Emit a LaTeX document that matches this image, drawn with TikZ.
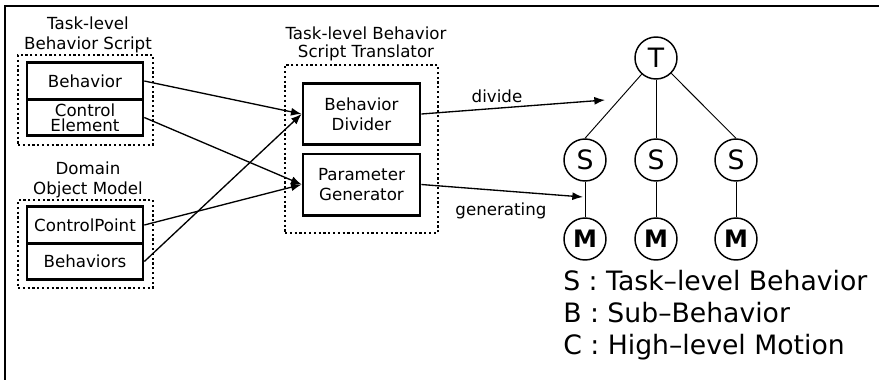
\documentclass[tikz,border=0pt]{standalone}
\usepackage{fontspec}
\setmainfont{DejaVu Sans}
\usetikzlibrary{arrows.meta}

\begin{document}
\begin{tikzpicture}[x=0.75pt, y=-0.75pt,
  box/.style={draw, line width=2pt, minimum width=87pt, minimum height=27.4pt,
    inner sep=1pt, align=center, font=\fontsize{12.5}{11}\selectfont},
  bigbox/.style={draw, line width=2pt, minimum width=87.75pt, minimum height=46pt,
    inner sep=1pt, align=center, font=\fontsize{12.5}{15}\selectfont},
  group/.style={draw, dotted, line width=1.6pt, inner sep=0pt},
  title/.style={align=center, inner sep=0pt, font=\fontsize{12.5}{15}\selectfont},
  flow/.style={line width=1pt, -{Latex[length=8pt,width=6pt]}},
  leaf/.style={draw, circle, line width=1.1pt, minimum size=31.5pt, inner sep=0pt,
    font=\fontsize{20}{20}\selectfont},
  edge/.style={line width=0.7pt}]
\useasboundingbox (0,0) rectangle (879,380);

% frame
\draw [line width=1.5pt] (879,6) -- (5,6) -- (5,380);

% behavior script
\node [title] (scripttitle) at (88,35) {Task-level\\Behavior Script};
\node [group, minimum width=101.25pt, minimum height=67.5pt] (script) at (85.5,100) {};
\node [box] (behavior) at (85,81) {Behavior};
\node [box] (control) at (85,117.5) {Control\\Element};

% domain object model
\node [title] (domaintitle) at (88,180) {Domain\\Object Model};
\node [group, minimum width=101.25pt, minimum height=66pt] (domain) at (85.5,244) {};
\node [box] (point) at (85,225) {ControlPoint};
\node [box] (behaviors) at (85,261.5) {Behaviors};

% translator
\node [title, font=\fontsize{12.5}{13.5}\selectfont] (transtitle) at (366,44) {Task-level Behavior\\Script Translator};
\node [group, minimum width=114.75pt, minimum height=126pt] (trans) at (361.5,149) {};
\node [bigbox] (divider) at (361.5,114) {Behavior\\Divider};
\node [bigbox] (generator) at (361.5,184.5) {Parameter\\Generator};

\draw [flow] (behavior.east) -- (divider.west);
\draw [flow] (behaviors.east) -- (divider.west);
\draw [flow] (control.east) -- (generator.west);
\draw [flow] (point.east) -- (generator.west);

% tree
\node [leaf] (T) at (656,58) {T};
\foreach \i/\x in {1/585, 2/656, 3/736} {
  \node [leaf] (S\i) at (\x,160) {S};
  \node [leaf, font=\fontsize{18}{18}\selectfont\bfseries] (M\i) at (\x,239) {M};
  \draw [edge] (T) -- (S\i.north);
  \draw [edge] (S\i) -- (M\i);
}

\coordinate (divtip) at (605,100);
\coordinate (gentip) at (583,197);
\draw [flow] (divider.east) -- (divtip);
\draw [flow] (generator.east) -- (gentip);
\node [title] (dividelabel) at (497,96) {divide};
\node [title] (genlabel) at (501,211) {generating};

% legend
\node [anchor=west, align=left, inner sep=0pt, font=\fontsize{20}{24}\selectfont] (legend) at (563,315)
  {S : Task--level Behavior\\B : Sub--Behavior\\C : High--level Motion};
\end{tikzpicture}
\end{document}
